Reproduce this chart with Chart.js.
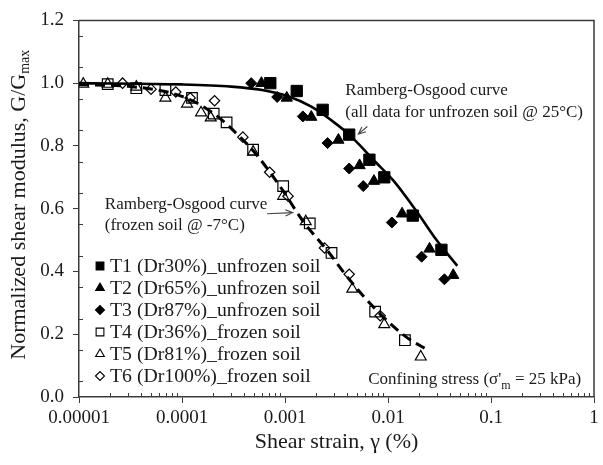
<!DOCTYPE html>
<html>
<head>
<meta charset="utf-8">
<script src="https://cdn.jsdelivr.net/npm/chart.js@4.4.1/dist/chart.umd.min.js"></script>
<style>
    html, body { margin: 0; padding: 0; background: #fff; }
    #wrap { width: 603px; height: 465px; }
</style>
</head>
<body>
<div id="wrap"><canvas id="modulusChart" width="603" height="465"></canvas></div>
<script>
// ===================================
// Normalized shear modulus vs shear strain
// ===================================

// T1..T3 unfrozen, T4..T6 frozen (strain in %, G/Gmax)
const t1Strain = [0.00072, 0.0013, 0.00232, 0.0042, 0.0066, 0.0092, 0.0174, 0.033];
const t1G      = [1.0, 0.975, 0.915, 0.836, 0.756, 0.70, 0.578, 0.469];

const t2Strain = [0.00059, 0.00104, 0.0018, 0.0033, 0.0053, 0.0073, 0.0137, 0.0253, 0.043];
const t2G      = [1.0, 0.953, 0.892, 0.819, 0.738, 0.688, 0.584, 0.472, 0.388];

const t3Strain = [0.00047, 0.00084, 0.00149, 0.00259, 0.0042, 0.00575, 0.0109, 0.0212, 0.0353];
const t3G      = [1.0, 0.956, 0.894, 0.809, 0.728, 0.672, 0.556, 0.447, 0.375];

const t4Strain = [0.000019, 0.000036, 0.000069, 0.000125, 0.000203, 0.000271, 0.00049, 0.00096, 0.00174, 0.00283, 0.0075, 0.0146];
const t4G      = [0.997, 0.984, 0.978, 0.953, 0.903, 0.875, 0.788, 0.672, 0.553, 0.459, 0.272, 0.181];

const t5Strain = [0.000011, 0.000019, 0.000036, 0.000069, 0.000112, 0.000153, 0.00019, 0.00049, 0.00096, 0.00159, 0.0045, 0.0092, 0.0208];
const t5G      = [0.997, 0.997, 0.988, 0.953, 0.934, 0.906, 0.89, 0.781, 0.64, 0.559, 0.344, 0.231, 0.128];

const t6Strain = [0.0000265, 0.00005, 0.000087, 0.00012, 0.000207, 0.00039, 0.00071, 0.00107, 0.00242, 0.0042, 0.0084];
const t6G      = [1.0, 0.981, 0.972, 0.953, 0.944, 0.828, 0.716, 0.64, 0.475, 0.391, 0.259];

// Ramberg-Osgood curves
const roUnfrozenStrain = [0.00001, 0.0001, 0.0003, 0.0006, 0.00107, 0.0018, 0.0032, 0.0042, 0.0054, 0.007, 0.0114, 0.019, 0.0296, 0.047];
const roUnfrozenG      = [1.0, 0.996, 0.989, 0.978, 0.958, 0.925, 0.868, 0.836, 0.80, 0.76, 0.688, 0.591, 0.50, 0.418];

const roFrozenStrain = [0.00001, 0.00003, 0.0001, 0.0002, 0.00035, 0.00052, 0.0009, 0.0015, 0.0026, 0.0042, 0.0078, 0.0152, 0.0243];
const roFrozenG      = [0.995, 0.99, 0.958, 0.905, 0.835, 0.775, 0.67, 0.56, 0.465, 0.375, 0.275, 0.19, 0.15];

const legendLabels = [
    'T1 (Dr30%)_unfrozen soil',
    'T2 (Dr65%)_unfrozen soil',
    'T3 (Dr87%)_unfrozen soil',
    'T4 (Dr36%)_frozen soil',
    'T5 (Dr81%)_frozen soil',
    'T6 (Dr100%)_frozen soil'
];

const xTickValues = [0.00001, 0.0001, 0.001, 0.01, 0.1, 1];
const xTickLabels = ['0.00001', '0.0001', '0.001', '0.01', '0.1', '1'];

const SERIF = "'Liberation Serif', 'Times New Roman', serif";
const INK = '#1a1a1a';
const AXIS = '#3a3a3a';

function toPoints(xs, ys) {
    return xs.map((x, i) => ({ x: x, y: ys[i] }));
}

function markerSet(label, xs, ys, style, filled, radius) {
    return {
        label: label,
        data: toPoints(xs, ys),
        showLine: false,
        pointStyle: style,
        pointRadius: radius,
        pointHoverRadius: radius,
        pointBackgroundColor: filled ? '#000' : 'rgba(0,0,0,0)',
        pointBorderColor: '#000',
        pointBorderWidth: filled ? 1 : 1.2,
        order: 2
    };
}

// Minor ticks, box, legend, titles and notes
const decorPlugin = {
    id: 'decor',
    afterDraw(chart) {
        const ctx = chart.ctx;
        const area = chart.chartArea;
        const xs = chart.scales.x;
        const ys = chart.scales.y;
        ctx.save();

        // top and right border
        ctx.strokeStyle = AXIS;
        ctx.lineWidth = 1.5;
        ctx.beginPath();
        ctx.moveTo(area.left, area.top);
        ctx.lineTo(area.right, area.top);
        ctx.lineTo(area.right, area.bottom);
        ctx.stroke();

        // minor ticks (inside)
        ctx.lineWidth = 1;
        ctx.beginPath();
        for (let d = -5; d < 0; d++) {
            for (let m = 2; m <= 9; m++) {
                const px = Math.round(xs.getPixelForValue(m * Math.pow(10, d))) + 0.5;
                ctx.moveTo(px, area.bottom);
                ctx.lineTo(px, area.bottom - 4);
            }
        }
        for (let v = 0.05; v < 1.2; v += 0.1) {
            const py = Math.round(ys.getPixelForValue(v)) + 0.5;
            ctx.moveTo(area.left, py);
            ctx.lineTo(area.left + 4, py);
        }
        ctx.stroke();

        // legend inside plot
        ctx.font = '19.75px ' + SERIF;
        ctx.fillStyle = INK;
        ctx.textBaseline = 'middle';
        ctx.textAlign = 'left';
        const legendSets = chart.data.datasets.filter(ds => ds.order === 2);
        legendSets.forEach((ds, i) => {
            const ly = area.bottom - 131 + i * 22;
            const lx = area.left + 21;
            ctx.fillStyle = ds.pointBackgroundColor;
            ctx.strokeStyle = '#000';
            ctx.lineWidth = 1.1;
            Chart.helpers.drawPoint(ctx, {
                pointStyle: ds.pointStyle,
                radius: ds.pointStyle === 'rect' ? 5.5 : (ds.pointStyle === 'triangle' ? 5 : 4.5),
                rotation: 0,
                borderWidth: 1.1
            }, lx, ly);
            ctx.fillStyle = INK;
            ctx.fillText(legendLabels[i], lx + 10, ly + 1);
        });

        // annotations placed at data coordinates
        ctx.font = '17px ' + SERIF;
        ctx.fillStyle = INK;
        let ax = xs.getPixelForValue(0.00385);
        ctx.fillText('Ramberg-Osgood curve', ax, ys.getPixelForValue(0.978));
        ctx.fillText('(all data for unfrozen soil @ 25°C)', ax, ys.getPixelForValue(0.906));

        ax = xs.getPixelForValue(0.0000178);
        ctx.fillText('Ramberg-Osgood curve', ax, ys.getPixelForValue(0.6125));
        ctx.fillText('(frozen soil @ -7°C)', ax, ys.getPixelForValue(0.547));

        drawArrow(ctx, xs.getPixelForValue(0.0063), ys.getPixelForValue(0.862),
                       xs.getPixelForValue(0.00515), ys.getPixelForValue(0.8375));
        drawArrow(ctx, xs.getPixelForValue(0.00067), ys.getPixelForValue(0.584),
                       xs.getPixelForValue(0.00119), ys.getPixelForValue(0.5875));

        // confining stress note with subscript
        const cy = ys.getPixelForValue(0.056);
        const part1 = "Confining stress (σ'";
        const part3 = ' = 25 kPa)';
        ctx.font = '17px ' + SERIF;
        const w1 = ctx.measureText(part1).width;
        const w3 = ctx.measureText(part3).width;
        ctx.font = '12px ' + SERIF;
        const w2 = ctx.measureText('m').width;
        let cx = xs.getPixelForValue(0.75) - (w1 + w2 + w3);
        ctx.font = '17px ' + SERIF;
        ctx.fillText(part1, cx, cy);
        ctx.font = '12px ' + SERIF;
        ctx.fillText('m', cx + w1, cy + 6);
        ctx.font = '17px ' + SERIF;
        ctx.fillText(part3, cx + w1 + w2, cy);

        // x title
        ctx.font = '22px ' + SERIF;
        ctx.textAlign = 'center';
        ctx.fillText('Shear strain, γ (%)', (area.left + area.right) / 2, 442);

        // y title with subscript
        ctx.translate(19, (area.top + area.bottom) / 2 - 4);
        ctx.rotate(-Math.PI / 2);
        const yMain = 'Normalized shear modulus, G/G';
        ctx.font = '22px ' + SERIF;
        const wm = ctx.measureText(yMain).width;
        ctx.font = '14px ' + SERIF;
        const ws = ctx.measureText('max').width;
        const start = -(wm + ws) / 2;
        ctx.textAlign = 'left';
        ctx.font = '22px ' + SERIF;
        ctx.fillText(yMain, start, 0);
        ctx.font = '14px ' + SERIF;
        ctx.fillText('max', start + wm, 6);

        ctx.restore();
    }
};

function drawArrow(ctx, x1, y1, x2, y2) {
    const ang = Math.atan2(y2 - y1, x2 - x1);
    const head = 8;
    ctx.save();
    ctx.strokeStyle = '#444';
    ctx.lineWidth = 1.1;
    ctx.beginPath();
    ctx.moveTo(x1, y1);
    ctx.lineTo(x2, y2);
    ctx.moveTo(x2 - head * Math.cos(ang - 0.4), y2 - head * Math.sin(ang - 0.4));
    ctx.lineTo(x2, y2);
    ctx.lineTo(x2 - head * Math.cos(ang + 0.4), y2 - head * Math.sin(ang + 0.4));
    ctx.stroke();
    ctx.restore();
}

const chart = new Chart(document.getElementById('modulusChart'), {
    type: 'scatter',
    data: {
        datasets: [
            {
                label: 'R-O unfrozen',
                data: toPoints(roUnfrozenStrain, roUnfrozenG),
                showLine: true,
                borderColor: '#000',
                borderWidth: 2.6,
                pointRadius: 0,
                cubicInterpolationMode: 'monotone',
                order: 1
            },
            {
                label: 'R-O frozen',
                data: toPoints(roFrozenStrain, roFrozenG),
                showLine: true,
                borderColor: '#000',
                borderWidth: 3,
                borderDash: [10, 6],
                pointRadius: 0,
                cubicInterpolationMode: 'monotone',
                order: 1
            },
            markerSet(legendLabels[0], t1Strain, t1G, 'rect', true, 8),
            markerSet(legendLabels[1], t2Strain, t2G, 'triangle', true, 6.5),
            markerSet(legendLabels[2], t3Strain, t3G, 'rectRot', true, 5.5),
            markerSet(legendLabels[3], t4Strain, t4G, 'rect', false, 7.5),
            markerSet(legendLabels[4], t5Strain, t5G, 'triangle', false, 6.3),
            markerSet(legendLabels[5], t6Strain, t6G, 'rectRot', false, 5.2)
        ]
    },
    options: {
        responsive: false,
        animation: false,
        events: [],
        layout: { padding: { top: 13, right: 4, left: 0, bottom: 0 } },
        plugins: {
            legend: { display: false },
            tooltip: { enabled: false }
        },
        scales: {
            x: {
                type: 'logarithmic',
                min: 0.00001,
                max: 1,
                afterBuildTicks: function(scale) {
                    scale.ticks = xTickValues.map(v => ({ value: v }));
                },
                afterFit: function(scale) { scale.height = 68; },
                ticks: {
                    autoSkip: false,
                    maxRotation: 0,
                    padding: 4,
                    color: INK,
                    font: { family: SERIF, size: 19 },
                    callback: function(value, index) { return xTickLabels[index]; }
                },
                grid: { drawOnChartArea: false, tickLength: 6, color: AXIS, lineWidth: 1 },
                border: { color: AXIS, width: 1.5 }
            },
            y: {
                min: 0,
                max: 1.2,
                afterFit: function(scale) { scale.width = 79; },
                ticks: {
                    stepSize: 0.2,
                    padding: 9,
                    color: INK,
                    font: { family: SERIF, size: 19 },
                    callback: function(value) { return value.toFixed(1); }
                },
                grid: { drawOnChartArea: false, tickLength: 6, color: AXIS, lineWidth: 1 },
                border: { color: AXIS, width: 1.5 }
            }
        }
    },
    plugins: [decorPlugin]
});
</script>
</body>
</html>
